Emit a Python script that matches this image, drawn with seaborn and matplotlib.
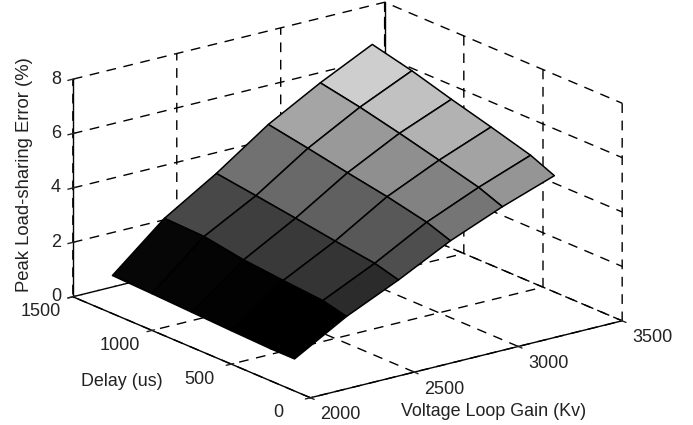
import numpy as np
import matplotlib
matplotlib.use('Agg')
import matplotlib.pyplot as plt
import seaborn as sns
from mpl_toolkits.mplot3d import proj3d

kv = [2000, 2250, 2500, 2750, 3000, 3250]
delay = [100, 250, 500, 750, 1000, 1250]

# rows follow kv, columns follow delay
err_2000 = [1.18, 1.18, 1.23, 1.29, 1.35, 1.40]
err_2250 = [2.27, 2.48, 2.60, 2.74, 2.98, 3.03]
err_2500 = [3.14, 3.38, 3.58, 3.80, 4.01, 4.21]
err_2750 = [4.11, 4.42, 4.74, 5.00, 5.28, 5.54]
err_3000 = [4.89, 5.23, 5.61, 5.98, 6.32, 6.60]
err_3250 = [5.56, 5.94, 6.36, 6.76, 7.19, 7.54]

kv_ticks = [2000, 2500, 3000, 3500]
delay_ticks = [0, 500, 1000, 1500]
err_ticks = [0, 2, 4, 6, 8]

sns.set_theme(style='white', rc={
    'grid.color': 'black',
    'grid.linewidth': 1.0,
    'grid.linestyle': (0, (7, 5.5)),
    'axes.edgecolor': 'black',
    'axes.linewidth': 1.0,
    'xtick.major.width': 1.0,
    'ytick.major.width': 1.0,
})
plt.rcParams['font.family'] = ['Liberation Sans', 'DejaVu Sans']
TXT = '#222222'
FS = 13

W, H = 693, 425
SIDE = 600
fig = plt.figure(figsize=(W / 100, H / 100), dpi=100)
left = 347.5 - 0.5135 * SIDE
bottom = 225 - 0.5135 * SIDE
ax = fig.add_axes([left / W, bottom / H, SIDE / W, SIDE / H], projection='3d',
                  proj_type='ortho', computed_zorder=False)
ax.patch.set_alpha(0)
ax.view_init(elev=18.9, azim=-127.3)
ax.set_box_aspect((392, 392, 230), zoom=0.971)

X, Y = np.meshgrid(kv, delay, indexing='ij')
Z = np.array([err_2000, err_2250, err_2500, err_2750, err_3000, err_3250])

cmap = sns.color_palette('gray', as_cmap=True)
colors = cmap((Z - Z.min()) / (Z.max() - Z.min()))

ax.plot([3500, 3500], [1500, 1500], [0, 8], color='black', lw=1.0, zorder=1)
ax.plot_surface(X, Y, Z, facecolors=colors, rstride=1, cstride=1, shade=False,
                edgecolor='black', linewidth=1.1, antialiased=True, zorder=2)

ax.set_xlim(2000, 3500)
ax.set_ylim(0, 1500)
ax.set_zlim(0, 8)
ax.set_xticks(kv_ticks)
ax.set_yticks(delay_ticks)
ax.set_zticks(err_ticks)
ax.set_xticklabels([])
ax.set_yticklabels([])
ax.set_zticklabels([])

for axis in (ax.xaxis, ax.yaxis, ax.zaxis):
    axis.set_pane_color((1, 1, 1, 0))
    axis.pane.set_edgecolor('none')
    axis.line.set_color('black')
    axis.line.set_linewidth(1.0)


def tick_text(x, y, z, label, dx, dy):
    px, py, _ = proj3d.proj_transform(x, y, z, ax.get_proj())
    ax.annotate(label, (px, py), xytext=(dx, dy), textcoords='offset pixels',
                ha='center', va='center', fontsize=FS, color=TXT)


for v in kv_ticks:
    tick_text(v, 0, 0, str(v), 30, -17)
for v in delay_ticks:
    tick_text(2000, v, 0, str(v), -32, -15)
for v in err_ticks:
    tick_text(2000, 1500, v, str(v), -17, 0)

fig.text(494 / W, 1 - 412 / H, 'Voltage Loop Gain (Kv)', ha='center', va='center', fontsize=12.9, color=TXT)
fig.text(122 / W, 1 - 382 / H, 'Delay (us)', ha='center', va='center', fontsize=12.9, color=TXT)
fig.text(25 / W, 1 - 175 / H, 'Peak Load-sharing Error (%)', ha='center', va='center',
         rotation=90, fontsize=13.3, color=TXT)

fig.savefig('out.png', dpi=100)
